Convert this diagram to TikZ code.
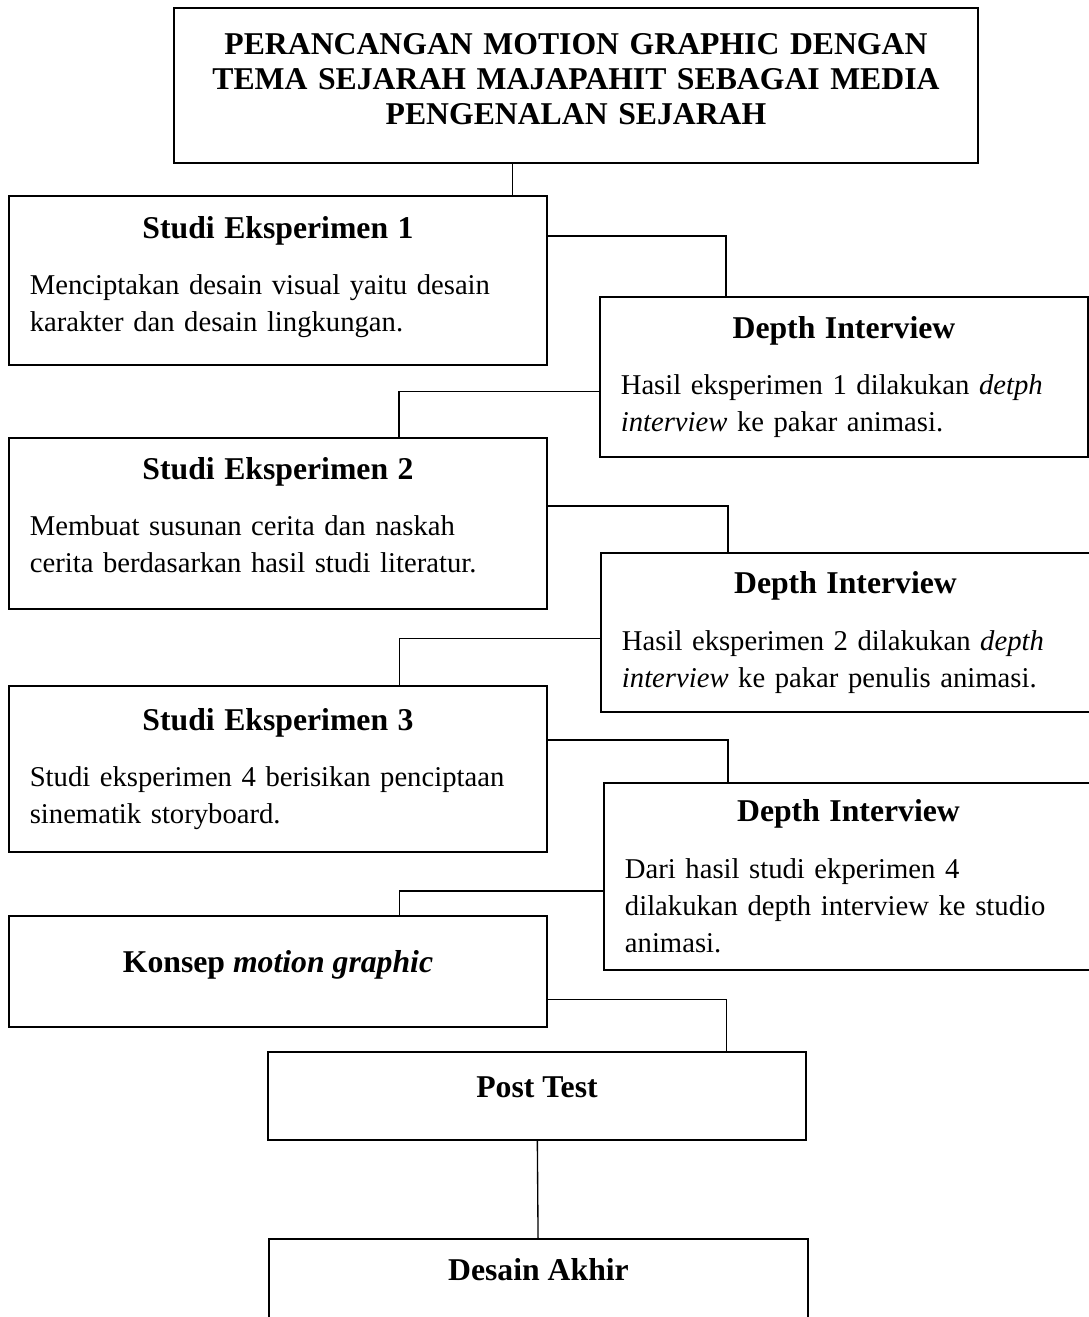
\documentclass[tikz,border=0pt]{standalone}
\usepackage{fontspec}
\setmainfont{Liberation Serif}
\tikzset
{
    stepbox/.style = {rectangle, draw=black, line width=0.8pt, align=left, inner xsep=0.3cm, inner ysep=0pt, font=\fontsize{11.75}{15.2}\selectfont},
    headbox/.style = {rectangle, draw=black, line width=0.8pt, align=center, inner ysep=0pt, font=\fontsize{13}{14.3}\selectfont\bfseries},
    link/.style    = {line width=0.55pt}
}
\newcommand{\boxhead}[1]{{\noindent\centering\fontsize{13}{15}\selectfont\bfseries #1\par}\vspace{8pt}\noindent}

\begin{document}
\begin{tikzpicture}[x=0.0144cm, y=-0.0144cm]
\useasboundingbox (0,0) rectangle (1089,1317);
\clip (0,0) rectangle (1089,1317);
\node [headbox, text width=11cm, minimum width=11.58cm, minimum height=2.23cm, text depth=1.2cm] at (576,85.5) (title) {PERANCANGAN MOTION GRAPHIC DENGAN\\TEMA SEJARAH MAJAPAHIT SEBAGAI MEDIA\\PENGENALAN SEJARAH};
\node [stepbox, text width=7.15cm, minimum width=7.75cm, minimum height=2.43cm, text depth=43.7pt] at (278,280.5) (se1) {\boxhead{Studi Eksperimen 1}Menciptakan desain visual yaitu desain\\karakter dan desain lingkungan.};
\node [stepbox, text width=6.43cm, minimum width=7.03cm, minimum height=2.30cm] at (844,377) (di1) {\boxhead{Depth Interview}Hasil eksperimen 1 dilakukan \textit{detph}\\\textit{interview} ke pakar animasi.};
\node [stepbox, text width=7.15cm, minimum width=7.75cm, minimum height=2.46cm, text depth=45.3pt] at (278,523.5) (se2) {\boxhead{Studi Eksperimen 2}Membuat susunan cerita dan naskah\\cerita berdasarkan hasil studi literatur.};
\node [stepbox, text width=6.44cm, minimum width=7.04cm, minimum height=2.29cm] at (845.5,632.5) (di2) {\boxhead{Depth Interview}Hasil eksperimen 2 dilakukan \textit{depth}\\\textit{interview} ke pakar penulis animasi.};
\node [stepbox, text width=7.15cm, minimum width=7.75cm, minimum height=2.39cm] at (278,769) (se3) {\boxhead{Studi Eksperimen 3}Studi eksperimen 4 berisikan penciptaan\\sinematik storyboard.};
\node [stepbox, text width=6.44cm, minimum width=7.04cm, minimum height=2.69cm] at (848.5,876.5) (di3) {\boxhead{Depth Interview}Dari hasil studi ekperimen 4\\dilakukan depth interview ke studio\\animasi.};
\node [headbox, minimum width=7.75cm, minimum height=1.60cm, text depth=0.28cm] at (278,971.5) (konsep) {Konsep \textit{motion graphic}};
\node [headbox, minimum width=7.75cm, minimum height=1.27cm, text depth=0.27cm] at (537,1096) (post) {Post Test};
\node [headbox, minimum width=7.76cm, minimum height=1.58cm, text depth=0.70cm] at (538.5,1294) (akhir) {Desain Akhir};
\draw [link] ([xshift=-0.91cm]title.south) -- ([xshift=-0.91cm]title.south |- se1.north);
\draw [link] ([yshift=-0.59cm]se1.north east) -| ([xshift=1.83cm]di1.north west);
\draw [link] ([yshift=-1.37cm]di1.north west) -| ([xshift=5.63cm]se2.north west);
\draw [link] ([yshift=-0.99cm]se2.north east) -| ([xshift=1.84cm]di2.north west);
\draw [link] ([yshift=-1.25cm]di2.north west) -| ([xshift=5.64cm]se3.north west);
\draw [link] ([yshift=-0.79cm]se3.north east) -| ([xshift=1.80cm]di3.north west);
\draw [link] ([yshift=-1.57cm]di3.north west) -| ([xshift=5.64cm]konsep.north west);
\draw [link] ([yshift=-1.22cm]konsep.north east) -| ([xshift=6.62cm]post.north west);
\draw [link] (post) -- (akhir);
\end{tikzpicture}
\end{document}
